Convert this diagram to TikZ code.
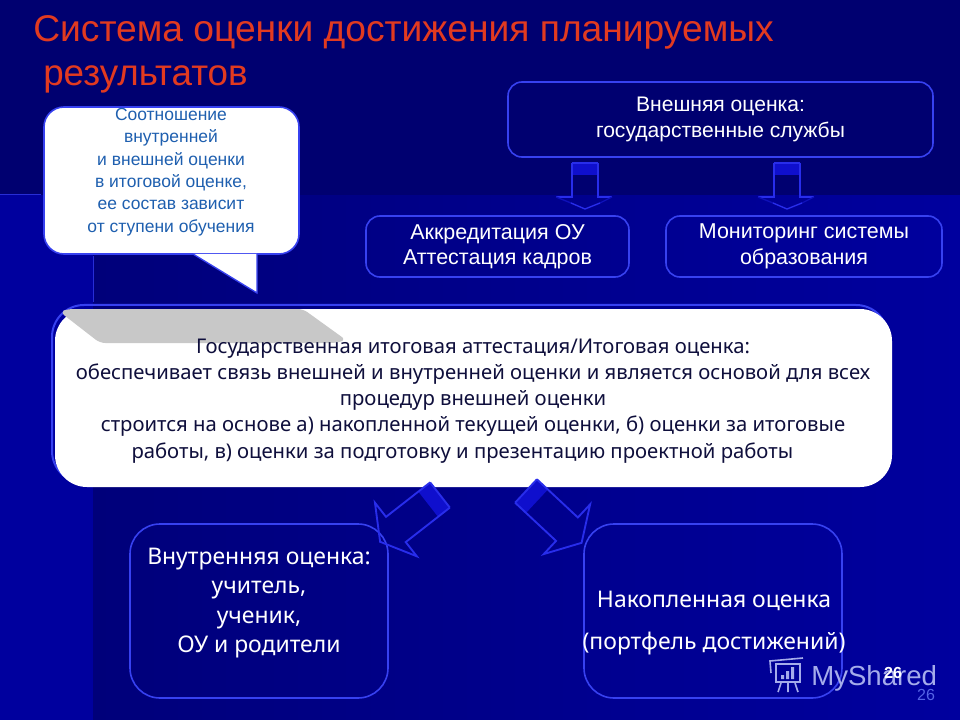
\documentclass[tikz,border=0pt]{standalone}
\usepackage{fontspec}
\setmainfont{Liberation Sans}
\newfontfamily\bodyfont[WordSpace=1.2]{Noto Sans}
\newfontfamily\lowerfont{Noto Sans}
\usetikzlibrary{arrows.meta, positioning, calc}
\definecolor{slidebright}{RGB}{0,0,158}
\definecolor{slidedark}{RGB}{0,0,112}
\definecolor{slidemid}{RGB}{0,0,122}
\definecolor{edgeblue}{RGB}{55,65,240}
\definecolor{arrowblue}{RGB}{40,45,235}
\definecolor{barblue}{RGB}{15,15,205}
\definecolor{titlered}{RGB}{226,58,32}
\definecolor{calloutblue}{RGB}{30,95,175}
\definecolor{tabgray}{RGB}{200,200,200}
\definecolor{inknavy}{RGB}{15,15,60}
\definecolor{markblue}{RGB}{165,172,235}
\definecolor{pagenum}{RGB}{85,100,230}
\tikzset{
  darkbox/.style={draw=edgeblue, line width=1.2pt, rounded corners=#1*0.75pt,
    inner sep=0pt, text=white, align=center},
  boxsize/.style 2 args={minimum width=#1*0.75pt, minimum height=#2*0.75pt},
  downarrow/.pic={
    \fill[barblue] (-13,0) rectangle (13,12);
    \draw[arrowblue, line width=1pt] (-13,0) -- (13,0);
    \draw[arrowblue, line width=1pt] (-13,0) -- (-13,34) -- (-29,34);
    \draw[arrowblue, line width=1pt] (13,0) -- (13,34) -- (27,34);
    \draw[arrowblue!35!slidebright, line width=1pt] (-29,34) -- (-14,40) (15,40) -- (27,34);
    \draw[arrowblue, line width=1pt] (-14,40) -- (0,46) -- (15,40);
  },
  slantarrow/.pic={
    \fill[barblue] (-16,0) rectangle (16,15);
    \draw[arrowblue, line width=1.4pt] (-16,0) -- (16,0);
    \draw[arrowblue, line width=1.4pt] (-16,0) -- (-16,56) -- (-34,56) -- (0,76)
      -- (34,56) -- (16,56) -- (16,0);
  }
}
\begin{document}
\begin{tikzpicture}[x=0.75pt, y=-0.75pt]
  \useasboundingbox (0,0) rectangle (960,720);
  % Background
  \fill[slidebright] (0,0) rectangle (960,720);
  \shade[left color=slidemid, right color=slidebright] (93,195) rectangle (960,720);
  \fill[slidedark] (0,0) rectangle (960,195);
  \draw[edgeblue!70!slidebright] (0,194) -- (41,194);
  \draw[edgeblue!70!slidebright] (93,256) -- (93,302);
  % Title
  \node[anchor=base west, inner sep=0pt, text=titlered, font=\fontsize{27.9}{30}\selectfont]
    (titlea) at (33,42) {Система оценки достижения планируемых};
  \node[anchor=base west, inner sep=0pt, text=titlered, font=\fontsize{27.6}{30}\selectfont]
    (titleb) at (43,86) {результатов};
  % Callout
  \node[darkbox=20, fill=white, boxsize={255}{147}] (callout) at (171.5,180.5) {};
  \coordinate (tailleft) at (193,254);
  \coordinate (tailtip) at (257,293);
  \coordinate (tailright) at (257,254);
  \fill[white] (tailleft) -- (tailtip) -- (tailright) -- cycle;
  \draw[edgeblue, line width=1pt] (tailleft) -- (tailtip) -- (tailright);
  \node[inner sep=0pt, text=calloutblue, align=center, font=\fontsize{13.1}{16.8}\selectfont]
    (callouttext) at (171,172) {Соотношение\\внутренней\\и внешней оценки\\в итоговой оценке,\\ее состав зависит\\от ступени обучения};
  % Upper boxes
  \node[darkbox=14, boxsize={425}{75}, font=\fontsize{15.8}{19.5}\selectfont]
    (outerbox) at (720.5,119.5) {Внешняя оценка:\\государственные службы};
  \node[darkbox=14, boxsize={263}{61}, font=\fontsize{16.1}{19}\selectfont]
    (accrbox) at (497.5,246.5) {Аккредитация ОУ\\Аттестация кадров};
  \node[darkbox=14, boxsize={276}{61}, font=\fontsize{16.1}{19}\selectfont]
    (monbox) at (804,246.5) {Мониторинг системы\\образования};
  \coordinate (outerleft) at (585,163);
  \coordinate (outerright) at (787,163);
  \foreach \p in {outerleft, outerright}{
    \pic at (\p) {downarrow};
  }
  % Main box
  \node[draw=edgeblue, line width=1.5pt, rounded corners=24pt, inner sep=0pt, boxsize={836}{178}]
    (mainedge) at (470,394) {};
  \node[fill=white, rounded corners=24pt, inner sep=0pt, boxsize={837}{178}]
    (mainbox) at (473.5,398) {};
  \fill[tabgray, rounded corners=4pt] (60,312) -- (68,309) -- (303,309) -- (346,340)
    -- (336,343) -- (100,343) -- cycle;
  \node[inner sep=0pt, text=inknavy, align=center, font={\bodyfont\fontsize{15.2}{19.6}\selectfont}]
    (maintext) at (473,401) {Государственная итоговая аттестация/Итоговая оценка:\\обеспечивает связь внешней и внутренней оценки и является основой для всех\\процедур внешней оценки\\строится на основе а) накопленной текущей оценки, б) оценки за итоговые\\работы, в) оценки за подготовку и презентацию проектной работы\hspace*{16pt}};
  % Lower boxes
  \node[darkbox=30, boxsize={258}{174}] (innerbox) at (259,611) {};
  \node[darkbox=30, boxsize={258}{174}] (savedbox) at (713,611) {};
  \node[inner sep=0pt, text=white, align=center, font={\lowerfont\fontsize{17.2}{22}\selectfont}]
    (innertext) at (259,603) {Внутренняя оценка:\\учитель,\\ученик,\\ОУ и родители};
  \node[inner sep=0pt, text=white, align=center, font={\lowerfont\fontsize{17.2}{31.5}\selectfont}]
    (savedtext) at (714,623) {Накопленная оценка\\(портфель достижений)};
  \coordinate (maindownl) at (440,495);
  \coordinate (maindownr) at (526,491);
  \pic[rotate=-52] at (maindownl) {slantarrow};
  \pic[rotate=47] at (maindownr) {slantarrow};
  % Watermark
  \draw[markblue, line width=1.2pt] (771,673) -- (770,661) -- (803,658) (776,664) rectangle (800,682)
    (781,683) -- (778,692) (795,683) -- (798,692) (788,683) -- (788,692);
  \fill[markblue] (781,675) rectangle (784,679) (786,671) rectangle (789,679) (791,667) rectangle (794,679);
  \node[anchor=base west, inner sep=0pt, text=markblue, font=\fontsize{20.7}{24}\selectfont]
    (marktext) at (811,685) {MyShared};
  \node[inner sep=0pt, text=white, font=\bfseries\fontsize{12}{15}\selectfont] (slidenum) at (893,673) {26};
  \node[inner sep=0pt, text=pagenum, font=\fontsize{12}{15}\selectfont] (pagenum) at (926,695) {26};
\end{tikzpicture}
\end{document}
